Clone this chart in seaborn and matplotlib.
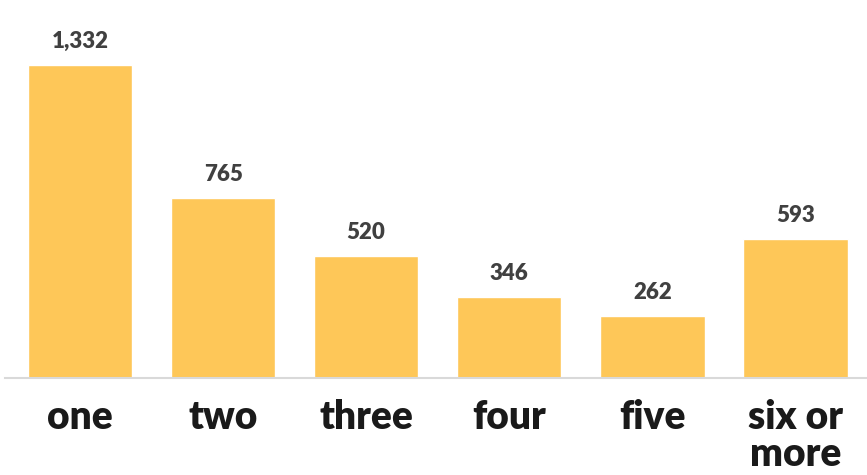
import matplotlib
matplotlib.use('Agg')
import matplotlib.pyplot as plt
import seaborn as sns
import pandas as pd

categories = ["one", "two", "three", "four", "five", "six or\nmore"]
values = [1332, 765, 520, 346, 262, 593]

df = pd.DataFrame({"cat": categories, "val": values})

sns.set_style("white")
plt.rcParams['font.family'] = ['Lato', 'DejaVu Sans']

fig = plt.figure(figsize=(8.67, 4.75), dpi=100)
ax = fig.add_axes([5 / 867, 97 / 475, 862 / 867, 378 / 475])

sns.barplot(data=df, x="cat", y="val", color="#FEC758", saturation=1, width=0.73, ax=ax)

for i, v in enumerate(values):
    ax.text(i, v + 55, f"{v:,}", ha="center", va="bottom", fontsize=16,
            fontweight="heavy", color="#404040")

ax.set_xlim(-0.524, 5.5)
ax.set_ylim(0, 1608)
ax.set_xlabel("")
ax.set_ylabel("")
ax.set_yticks([])
ax.tick_params(axis="x", length=0, pad=15, labelsize=28)
for lbl in ax.get_xticklabels():
    lbl.set_fontweight("heavy")
    lbl.set_color("#1a1a1a")
    lbl.set_linespacing(1.0)
for s in ["top", "right", "left"]:
    ax.spines[s].set_visible(False)
ax.spines["bottom"].set_color("#d9d9d9")
ax.spines["bottom"].set_linewidth(1.5)

fig.savefig("out.png", dpi=100)
